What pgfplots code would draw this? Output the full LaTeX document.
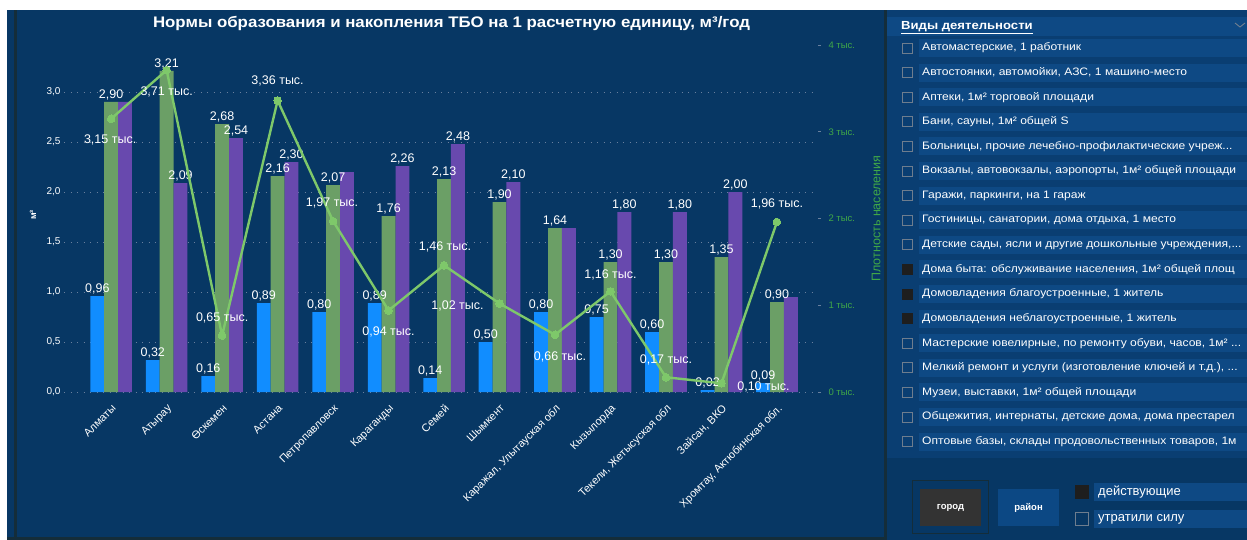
\documentclass[border=0pt]{standalone}
\usepackage{fontspec}
\setmainfont{Liberation Sans}
\newfontfamily\titlefont[FakeStretch=1.1]{Liberation Sans}
\newfontfamily\slicerfont[FakeStretch=1.12]{Liberation Sans}
\usepackage{pgfplots}
\pgfplotsset{compat=1.18}
\usepackage{pgfplotstable}

\definecolor{chartbg}{RGB}{7,55,100}
\definecolor{panelbg}{RGB}{10,62,114}
\definecolor{rowbg}{RGB}{14,73,132}
\definecolor{edgeline}{RGB}{20,45,58}
\definecolor{pbblue}{RGB}{17,141,255}
\definecolor{pbgreen}{RGB}{107,159,102}
\definecolor{pbpurple}{RGB}{104,73,174}
\definecolor{linegreen}{RGB}{126,200,106}
\definecolor{axgreen}{RGB}{64,168,72}
\definecolor{gridc}{RGB}{105,128,158}
\definecolor{boxgray}{RGB}{110,125,142}
\definecolor{checkfill}{RGB}{30,30,30}
\definecolor{btngray}{RGB}{51,51,51}
\definecolor{btnblue}{RGB}{12,72,132}

\pgfplotstableread{
i  b    g    p    bl   gl   pl
0  0.96 2.90 2.90 0,96 2,90 {}
1  0.32 3.21 2.09 0,32 3,21 2,09
2  0.16 2.68 2.54 0,16 2,68 2,54
3  0.89 2.16 2.30 0,89 2,16 2,30
4  0.80 2.07 2.20 0,80 2,07 {}
5  0.89 1.76 2.26 0,89 1,76 2,26
6  0.14 2.13 2.48 0,14 2,13 2,48
7  0.50 1.90 2.10 0,50 1,90 2,10
8  0.80 1.64 1.64 0,80 1,64 {}
9  0.75 1.30 1.80 0,75 1,30 1,80
10 0.60 1.30 1.80 0,60 1,30 1,80
11 0.02 1.35 2.00 0,02 1,35 2,00
12 0.09 0.90 0.95 0,09 0,90 {}
}\bars

\pgfplotstableread{
i  v    dx  dy
0  3.15 -1  -21
1  3.71 0   -22
2  0.65 0   18
3  3.36 0   20
4  1.97 -1  18
5  0.94 0   -21
6  1.46 1   18
7  1.02 -42 -2
8  0.66 5   -22
9  1.16 0   16
10 0.17 0   17
11 0.10 42  -4
12 1.96 0   18
}\dens

\newcommand{\slrow}[3]{%
  \fill[rowbg] (919,#1-9) rectangle (1247,#1+9);
  \ifnum#2=1
    \fill[checkfill] (902,#1-5.5) rectangle (913,#1+5.5);
  \else
    \draw[boxgray, line width=0.8pt] (902.5,#1-5) rectangle (912.5,#1+5);
  \fi
  \node[anchor=west, inner sep=0pt, text=white, font=\slicerfont\fontsize{10.8}{13}\selectfont] at (922,#1) {#3};
}

\begin{document}
\begin{tikzpicture}
\useasboundingbox (0,0) rectangle (1247pt,-540pt);
\fill[white] (0,0) rectangle (1247pt,-540pt);
\begin{scope}[x=1pt,y=-1pt]
  % chart panel
  \fill[chartbg] (7,10) rectangle (886,540);
  \fill[edgeline] (14,10) rectangle (17,540);
  \fill[edgeline] (7,537) rectangle (886,540);
  \fill[edgeline] (883.5,10) rectangle (886.5,540);
  % slicer panel
  \fill[panelbg] (886.5,10) rectangle (1247,458);
  \fill[chartbg] (886.5,458) rectangle (1247,540);
  % title
  \node[anchor=base, text=white, font=\titlefont\bfseries\fontsize{15.3}{17}\selectfont] at (451.5,27.5)
    {Нормы образования и накопления ТБО на 1 расчетную единицу, м³/год};
  % slicer header
  \fill[rowbg] (886.5,17) rectangle (1247,36);
  \node[anchor=west, inner sep=0pt, text=white, font=\slicerfont\bfseries\fontsize{11.7}{13}\selectfont] at (901,27.5) {\underline{Виды деятельности}};
  \draw[boxgray, line width=0.9pt] (1235,23) -- (1240,27) -- (1245,23);
  \slrow{48.0}{0}{Автомастерские, 1 работник}
  \slrow{72.6}{0}{Автостоянки, автомойки, АЗС, 1 машино-место}
  \slrow{97.2}{0}{Аптеки, 1м² торговой площади}
  \slrow{121.8}{0}{Бани, сауны, 1м² общей S}
  \slrow{146.4}{0}{Больницы, прочие лечебно-профилактические учреж...}
  \slrow{171.0}{0}{Вокзалы, автовокзалы, аэропорты, 1м² общей площади}
  \slrow{195.6}{0}{Гаражи, паркинги, на 1 гараж}
  \slrow{220.2}{0}{Гостиницы, санатории, дома отдыха, 1 место}
  \slrow{244.8}{0}{Детские сады, ясли и другие дошкольные учреждения,...}
  \slrow{269.4}{1}{Дома быта: обслуживание населения, 1м² общей площ}
  \slrow{294.0}{1}{Домовладения благоустроенные, 1 житель}
  \slrow{318.6}{1}{Домовладения неблагоустроенные, 1 житель}
  \slrow{343.2}{0}{Мастерские ювелирные, по ремонту обуви, часов, 1м² ...}
  \slrow{367.8}{0}{Мелкий ремонт и услуги (изготовление ключей и т.д.), ...}
  \slrow{392.4}{0}{Музеи, выставки, 1м² общей площади}
  \slrow{417.0}{0}{Общежития, интернаты, детские дома, дома престарел}
  \slrow{441.6}{0}{Оптовые базы, склады продовольственных товаров, 1м}
  % buttons
  \draw[edgeline, line width=0.8pt] (912,480) rectangle (988,533);
  \fill[btngray] (920,489) rectangle (981,526);
  \node[text=white, font=\bfseries\fontsize{9.5}{11}\selectfont] at (950.5,507.5) {город};
  \fill[btnblue] (998,489) rectangle (1059,526);
  \node[text=white, font=\bfseries\fontsize{9.5}{11}\selectfont] at (1028.5,507.5) {район};
  \fill[rowbg] (1094,483) rectangle (1247,501);
  \fill[checkfill] (1075,485) rectangle (1089,499);
  \node[anchor=west, inner sep=0pt, text=white, font=\fontsize{13}{15}\selectfont] at (1098,492) {действующие};
  \fill[rowbg] (1094,510) rectangle (1247,528);
  \draw[boxgray, line width=0.8pt] (1075.5,512.5) rectangle (1088.5,525.5);
  \node[anchor=west, inner sep=0pt, text=white, font=\fontsize{13}{15}\selectfont] at (1098,519) {утратили силу};
\end{scope}

% primary axis: bars
\begin{axis}[
  at={(64pt,-392pt)}, anchor=south west,
  scale only axis, width=754pt, height=347pt,
  xmin=-0.85, xmax=12.74, ymin=0, ymax=3.47,
  axis line style={draw=none}, tick style={draw=none},
  /pgf/number format/assume math mode=true,
  ytick={0,0.5,1,1.5,2,2.5,3},
  ymajorgrids,
  grid style={gridc, line width=0.9pt, dash pattern=on 0.9pt off 5.6pt},
  yticklabel style={text=white, font=\fontsize{10}{12}\selectfont,
    /pgf/number format/.cd, fixed, fixed zerofill, precision=1, use comma},
  xtick={0,...,12},
  xticklabels={Алматы,Атырау,Өскемен,Астана,Петропавловск,Караганды,Семей,Шымкент,{Каражал, Улытауская обл},Кызылорда,{Текели, Жетысуская обл},{Зайсан, ВКО},{Хромтау, Актюбинская обл.}},
  xticklabel shift=10pt,
  xticklabel style={text=white, rotate=45, anchor=north east, inner sep=1pt, font=\fontsize{11}{13}\selectfont},
  ylabel={м³},
  every axis y label/.style={at={(axis description cs:-0.041,0.51)}, rotate=90, anchor=center, text=white, font=\bfseries\fontsize{9}{10}\selectfont},
  every node near coord/.append style={text=white, anchor=south, inner sep=1.5pt, font=\fontsize{12.5}{14}\selectfont},
]
\addplot[ybar, bar width=0.25, bar shift=0pt, fill=pbblue, draw=none,
  nodes near coords, point meta=explicit symbolic]
  table[x expr=\thisrow{i}-0.25, y=b, meta=bl]{\bars};
\addplot[ybar, bar width=0.25, bar shift=0pt, fill=pbgreen, draw=none,
  nodes near coords, point meta=explicit symbolic]
  table[x=i, y=g, meta=gl]{\bars};
\addplot[ybar, bar width=0.25, bar shift=0pt, fill=pbpurple, draw=none,
  nodes near coords, point meta=explicit symbolic]
  table[x expr=\thisrow{i}+0.25, y=p, meta=pl]{\bars};
\end{axis}

% secondary axis: density line
\begin{axis}[
  at={(64pt,-392pt)}, anchor=south west,
  scale only axis, width=754pt, height=347pt,
  xmin=-0.85, xmax=12.74, ymin=0, ymax=4,
  axis x line=none, axis y line*=right, axis line style={draw=none},
  /pgf/number format/assume math mode=true,
  ytick={0,1,2,3,4},
  yticklabel={\pgfmathprintnumber{\tick}~тыс.},
  yticklabel style={text=axgreen, font=\fontsize{9.5}{11}\selectfont, xshift=4pt},
  ytick style={draw=gridc, line width=0.8pt}, major tick length=3pt, tick align=outside,
  ylabel={Плотность населения},
  every axis y label/.style={at={(axis description cs:1.077,0.5)}, rotate=90, anchor=center, text=axgreen, font=\fontsize{12.5}{14}\selectfont},
]
\addplot[color=linegreen, line width=2.4pt, line join=round,
  mark=*, mark size=3.8pt, mark options={solid, fill=linegreen, draw=linegreen, line width=0pt},
  point meta=y,
  visualization depends on={\thisrow{dx} \as \dx},
  visualization depends on={\thisrow{dy} \as \dy},
  nodes near coords={\pgfmathprintnumber[fixed, fixed zerofill, precision=2, use comma]{\pgfplotspointmeta}~тыс.},
  every node near coord/.append style={anchor=center, xshift=\dx pt, yshift=\dy pt, text=white, inner sep=0pt, font=\fontsize{12.5}{14}\selectfont},
] table[x=i, y=v]{\dens};
\end{axis}
\end{tikzpicture}
\end{document}
